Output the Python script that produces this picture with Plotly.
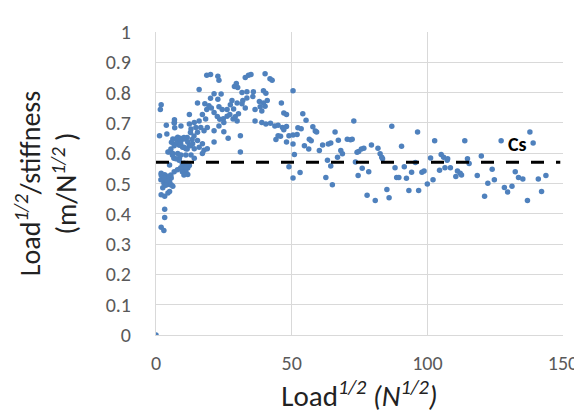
import plotly.graph_objects as go

# load^1/2 (N^1/2) and load^1/2/stiffness (m/N^1/2)
load_root = [
    0.0,
    18.7, 20.1, 22.8, 23.2, 32.9, 34.1, 35.0, 40.2, 42.0, 42.8, 29.6, 28.9, 30.1, 15.9,
    1.9, 1.6, 21.4, 24.0, 31.7, 33.5, 35.9, 39.6, 40.5, 50.5,
    20.1, 22.8, 28.0, 29.9, 32.0, 33.5, 35.7, 38.1, 39.6, 41.0,
    15.3, 18.0, 19.5, 18.7, 20.4, 23.2, 24.4, 26.2, 27.4, 28.6, 31.7, 32.9,
    36.5, 38.4, 40.2, 39.0, 46.2, 47.1, 48.1,
    12.3, 17.1, 18.3, 15.9, 14.1, 21.4, 22.6, 23.5, 24.8, 26.2, 27.2, 28.4, 29.2, 30.4, 29.9,
    36.5, 39.0, 40.5, 42.2, 43.8, 45.0, 46.6, 48.1, 50.5,
    3.8, 6.8, 6.8, 9.2, 12.3, 12.9, 14.7, 16.5, 15.3, 17.7, 18.9, 21.4, 23.2, 25.0, 26.6, 31.1, 25.0,
    44.2, 45.0, 45.9, 47.1, 48.1, 49.0, 31.1, 21.4, 1.3,
    6.2, 8.0, 9.2, 7.4, 8.6, 10.4, 11.7, 9.8, 11.0, 12.3, 13.5, 14.1, 15.3, 15.9, 17.1, 17.7,
    4.4, 6.2, 8.0, 9.2, 11.0, 12.9, 17.1, 18.9, 6.6, 8.6, 10.4, 5.0, 11.7, 11.0, 10.2, 12.3, 14.1,
    1.9, 3.2, 4.4, 5.6, 3.8, 2.9, 5.0, 6.2, 2.5, 50.5,
    1.9, 3.2, 4.4, 5.0, 5.6, 2.5, 3.8, 1.9, 3.2, 4.4, 5.0, 3.2, 3.2, 1.9, 2.9, 9.2, 11.0, 11.7,
    50.5, 51.0, 49.0, 52.0,
    52.3, 53.5, 54.1, 55.3, 57.8, 58.7, 59.2, 56.5, 57.2, 56.3, 54.7, 53.1, 60.2, 61.4, 62.6,
    63.5, 64.4, 63.2, 64.4, 66.0, 65.0, 67.2, 66.9, 68.1, 68.7, 70.5, 71.7, 72.3, 72.9, 74.1,
    74.7, 73.5, 76.0, 74.5, 75.7, 76.6, 77.8, 78.4, 79.4, 80.8, 81.8, 82.6, 83.2, 83.5, 85.1,
    85.9, 86.9, 88.1, 88.7, 89.5, 90.5, 91.5, 92.3, 93.2, 94.2, 95.6, 96.4, 96.8, 98.0, 98.8,
    100.0, 101.2, 102.1, 102.7,
    104.5, 105.1, 106.0, 106.5, 107.3, 107.5, 108.5, 110.5, 111.1, 112.1, 112.6, 113.8, 114.8,
    115.4, 118.4, 119.9, 121.1, 122.3, 123.9, 124.7, 127.2, 128.4, 129.6, 131.2, 132.4, 133.6,
    135.2, 136.9, 137.8, 139.0, 140.9, 142.1, 143.7,
    2.4, 1.8, 3.0, 4.2, 3.6, 5.5, 6.7, 7.9, 9.1, 9.7, 10.3, 10.9, 11.5, 9.7, 8.5, 7.3, 6.1,
    4.9, 5.5, 6.7, 7.9, 9.1, 10.3, 11.5, 12.7, 13.3, 14.0, 12.7, 11.5, 10.3, 8.9, 7.3, 5.7,
    4.0, 6.7, 6.9,
]
ratio = [
    0.0,
    0.857, 0.860, 0.854, 0.841, 0.850, 0.857, 0.860, 0.862, 0.846, 0.841, 0.830, 0.820, 0.817, 0.810,
    0.760, 0.744, 0.796, 0.795, 0.800, 0.803, 0.803, 0.806, 0.798, 0.806,
    0.781, 0.778, 0.774, 0.766, 0.774, 0.782, 0.787, 0.771, 0.766, 0.774,
    0.766, 0.763, 0.757, 0.744, 0.749, 0.753, 0.744, 0.744, 0.760, 0.746, 0.763, 0.749,
    0.744, 0.753, 0.755, 0.739, 0.766, 0.733, 0.728,
    0.728, 0.728, 0.713, 0.706, 0.701, 0.734, 0.721, 0.712, 0.714, 0.722, 0.728, 0.713, 0.720, 0.730, 0.706,
    0.706, 0.701, 0.696, 0.699, 0.690, 0.692, 0.685, 0.688, 0.660,
    0.692, 0.710, 0.701, 0.690, 0.696, 0.680, 0.685, 0.685, 0.669, 0.674, 0.685, 0.674, 0.690, 0.671, 0.649, 0.658, 0.701,
    0.645, 0.658, 0.656, 0.677, 0.637, 0.658, 0.604, 0.637, 0.658,
    0.647, 0.653, 0.642, 0.631, 0.626, 0.647, 0.637, 0.620, 0.615, 0.626, 0.631, 0.615, 0.642, 0.620, 0.631, 0.610,
    0.604, 0.599, 0.599, 0.594, 0.594, 0.594, 0.599, 0.615, 0.583, 0.583, 0.567, 0.561, 0.551, 0.534, 0.542, 0.559, 0.583,
    0.534, 0.529, 0.524, 0.518, 0.513, 0.502, 0.497, 0.491, 0.486, 0.518,
    0.528, 0.523, 0.517, 0.506, 0.496, 0.512, 0.506, 0.463, 0.458, 0.469, 0.474, 0.415, 0.388, 0.356, 0.345, 0.549, 0.539, 0.530,
    0.630, 0.596, 0.555, 0.662,
    0.684, 0.681, 0.730, 0.709, 0.687, 0.673, 0.670, 0.646, 0.641, 0.614, 0.625, 0.536, 0.609, 0.627, 0.520,
    0.630, 0.634, 0.577, 0.558, 0.670, 0.496, 0.643, 0.587, 0.609, 0.598, 0.646, 0.644, 0.646, 0.706, 0.603,
    0.606, 0.571, 0.550, 0.526, 0.614, 0.616, 0.461, 0.539, 0.627, 0.444, 0.616, 0.598, 0.587, 0.582, 0.480,
    0.453, 0.689, 0.552, 0.520, 0.520, 0.623, 0.555, 0.517, 0.477, 0.537, 0.569, 0.670, 0.477, 0.537, 0.541,
    0.498, 0.584, 0.512, 0.641,
    0.544, 0.596, 0.587, 0.552, 0.577, 0.582, 0.552, 0.523, 0.541, 0.534, 0.528, 0.641, 0.582,
    0.566, 0.526, 0.591, 0.458, 0.501, 0.547, 0.512, 0.641, 0.487, 0.472, 0.491, 0.539, 0.520,
    0.515, 0.444, 0.670, 0.634, 0.515, 0.474, 0.526,
    0.523, 0.512, 0.518, 0.507, 0.494, 0.528, 0.539, 0.545, 0.552, 0.539, 0.528, 0.555, 0.566, 0.566, 0.577, 0.582, 0.593,
    0.604, 0.614, 0.625, 0.636, 0.631, 0.620, 0.614, 0.625, 0.645, 0.657, 0.668, 0.652, 0.652, 0.649, 0.647, 0.636,
    0.663, 0.700, 0.684,
]

cs_value = 0.57
cs_span = [0, 149]

font = "Carlito, Lato, sans-serif"

fig = go.Figure()
fig.add_trace(go.Scatter(x=load_root, y=ratio, mode="markers",
                         marker=dict(color="#4f81bd", size=5.5, line=dict(width=0)),
                         showlegend=False))
fig.add_trace(go.Scatter(x=cs_span, y=[cs_value, cs_value], mode="lines",
                         line=dict(color="black", width=3, dash="13px,12px"),
                         showlegend=False))
fig.add_annotation(x=133.4, y=0.632, text="<b>Cs</b>", showarrow=False,
                   font=dict(family=font, size=20, color="black"))

fig.update_layout(
    width=582, height=417,
    margin=dict(l=148, r=22, t=17, b=90),
    plot_bgcolor="white", paper_bgcolor="white",
    font=dict(family=font),
    xaxis=dict(range=[0, 150], dtick=50, showgrid=True, gridcolor="#d9d9d9",
               showline=True, linecolor="#d9d9d9", zeroline=False,
               ticks="outside", ticklen=10, tickcolor="rgba(0,0,0,0)",
               tickfont=dict(size=20, color="#595959"),
               title=dict(text="Load<sup><i>1/2</i></sup> <i>(N<sup>1/2</sup>)</i>",
                          font=dict(size=29, color="#222222"), standoff=0)),
    yaxis=dict(range=[0, 1], dtick=0.1, showgrid=True, gridcolor="#d9d9d9",
               showline=True, linecolor="#d9d9d9", zeroline=False,
               ticks="outside", ticklen=20, tickcolor="rgba(0,0,0,0)",
               tickfont=dict(size=20, color="#595959"),
               title=dict(text="Load<sup><i>1/2</i></sup>/stiffness<br>(m/N<sup><i>1/2</i></sup> )",
                          font=dict(size=28, color="#222222"), standoff=20)),
)

fig.write_html("out.html")
